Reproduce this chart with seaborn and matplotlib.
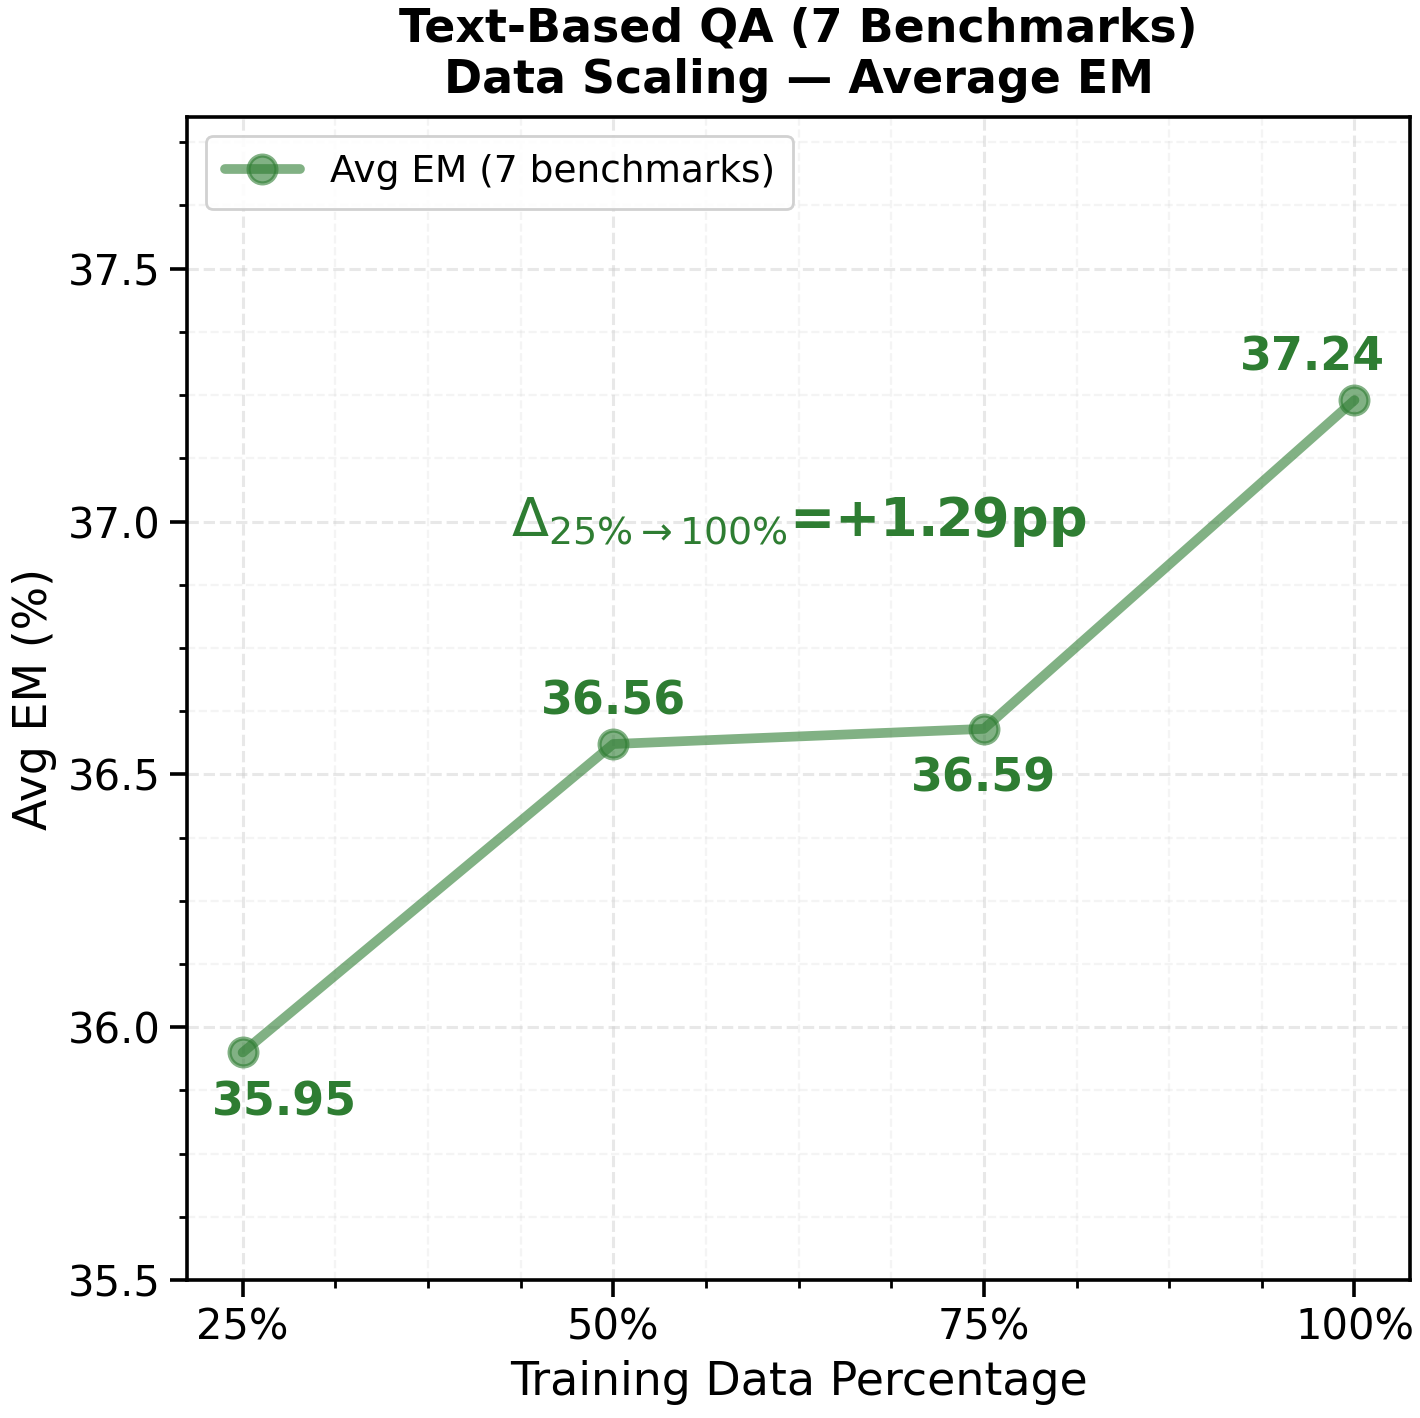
import seaborn as sns
import matplotlib.pyplot as plt
import pandas as pd
from matplotlib.ticker import AutoMinorLocator

# data
pct = [25, 50, 75, 100]
tick_labels = ["25%", "50%", "75%", "100%"]
avg_em = [35.95, 36.56, 36.59, 37.24]
label_pos = ["below", "above", "below", "above"]
label_dx = [15, 0, 0, -15]

green = "#2e7d32"

sns.set_style("ticks", rc={"axes.edgecolor": "black", "text.color": "black",
                           "axes.labelcolor": "black", "xtick.color": "black",
                           "ytick.color": "black"})
plt.rcParams["font.family"] = ["DejaVu Sans"]

df = pd.DataFrame({"pct": pct, "em": avg_em})

fig, ax = plt.subplots(figsize=(7.1, 7.09), dpi=200)
sns.lineplot(data=df, x="pct", y="em", ax=ax, color=green, alpha=0.6,
             linewidth=3.5, marker="o", markersize=10, markeredgewidth=1.5,
             markeredgecolor=green, label="Avg EM (7 benchmarks)")

# value labels
for x, y, pos, dx in zip(pct, avg_em, label_pos, label_dx):
    off = 7 if pos == "above" else -10
    ax.annotate(f"{y:.2f}", xy=(x, y), xytext=(dx, off), textcoords="offset points",
                ha="center", va="bottom" if pos == "above" else "top",
                fontsize=16.5, fontweight="bold", color=green)

gain = avg_em[-1] - avg_em[0]
ax.text((pct[1] + pct[2]) / 2, 37.0, r"$\Delta_{25\%\rightarrow100\%}$" + f"=+{gain:.2f}pp",
        ha="center", va="center", fontsize=19.5, fontweight="bold", color=green)

ax.set_xticks(pct)
ax.set_xticklabels(tick_labels)
ax.set_ylim(35.5, 37.8)
ax.set_yticks([35.5, 36.0, 36.5, 37.0, 37.5])
ax.xaxis.set_minor_locator(AutoMinorLocator(4))
ax.yaxis.set_minor_locator(AutoMinorLocator(4))
ax.tick_params(axis="both", which="major", labelsize=15, length=6, width=1.3)
ax.tick_params(axis="both", which="minor", length=3, width=1.0)
ax.grid(True, which="major", linestyle="--", linewidth=1.1, alpha=0.45)
ax.grid(True, which="minor", linestyle="--", linewidth=0.8, alpha=0.2)
for s in ax.spines.values():
    s.set_linewidth(1.3)

ax.set_xlabel("Training Data Percentage", fontsize=16.5)
ax.set_ylabel("Avg EM (%)", fontsize=16.5)
ax.set_title("Text-Based QA (7 Benchmarks)\nData Scaling — Average EM",
             fontsize=16.5, fontweight="bold", pad=8.5)
ax.legend(loc="upper left", fontsize=13.5, framealpha=0.9, borderpad=0.5)

fig.subplots_adjust(left=0.1317, right=0.993, top=0.9175, bottom=0.0973)
fig.savefig("out.png", dpi=200)
